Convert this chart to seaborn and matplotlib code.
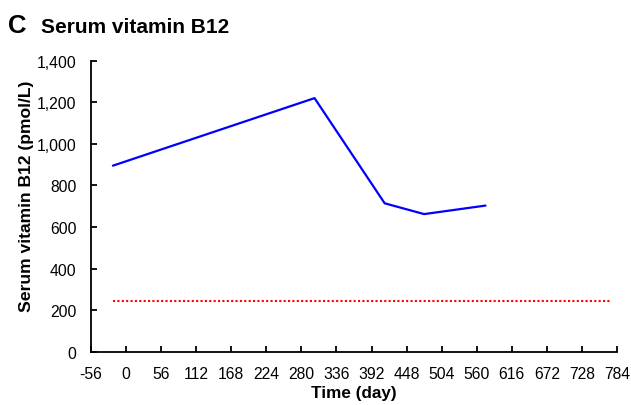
import pandas as pd
import seaborn as sns
import matplotlib.pyplot as plt
from matplotlib.ticker import FuncFormatter

# Serum B12 measurements
days = [-21, 301, 413, 476, 574]
b12_values = [895, 1220, 714, 662, 703]

# lower reference limit (dotted red line)
ref_days = [-21, 773]
ref_values = [245, 245]

x_ticks = list(range(-56, 785, 56))
y_ticks = list(range(0, 1401, 200))

sns.set_theme(style='white')
plt.rcParams['font.family'] = ['Liberation Sans', 'DejaVu Sans']
plt.rcParams['axes.unicode_minus'] = False
plt.rcParams['text.color'] = 'black'
plt.rcParams['axes.labelcolor'] = 'black'

df = pd.DataFrame({'day': days, 'b12': b12_values})
ref = pd.DataFrame({'day': ref_days, 'b12': ref_values})

fig = plt.figure(figsize=(6.31, 4.06), dpi=100)
ax = fig.add_axes([0.1442, 0.1313, 0.8336, 0.7167])

sns.lineplot(data=df, x='day', y='b12', color='#0000FF', linewidth=1.6, ax=ax)
sns.lineplot(data=ref, x='day', y='b12', color='#FF0000', linewidth=1.5,
             linestyle=(0, (1, 1.1)), ax=ax)

ax.set_xlim(-56, 784)
ax.set_ylim(0, 1400)
ax.set_xticks(x_ticks)
ax.set_yticks(y_ticks)
ax.yaxis.set_major_formatter(FuncFormatter(lambda v, p: f'{int(v):,}'))

for s in ['top', 'right']:
    ax.spines[s].set_visible(False)
for s in ['left', 'bottom']:
    ax.spines[s].set_color('black')
    ax.spines[s].set_linewidth(1.3)

ax.tick_params(axis='both', direction='in', length=4, width=1.3, color='black',
               labelsize=11.3, pad=10.5, labelcolor='black')
ax.tick_params(axis='x', bottom=True)
ax.tick_params(axis='y', left=True)

ax.set_xlabel('Time (day)', fontsize=12.3, fontweight='bold', labelpad=3, color='black')
ax.set_ylabel('')
fig.text(27 / 631, 1 - 196.5 / 406, 'Serum vitamin B12 (pmol/L)', rotation=90,
         ha='center', va='center', fontsize=12.6, fontweight='bold', color='black')

fig.text(8 / 631, 1 - 33.3 / 406, 'C', fontsize=18.5, fontweight='bold',
         va='baseline', color='black')
fig.text(41 / 631, 1 - 33.3 / 406, 'Serum vitamin B12', fontsize=15,
         fontweight='bold', va='baseline', color='black')

fig.savefig('out.png', dpi=100)
